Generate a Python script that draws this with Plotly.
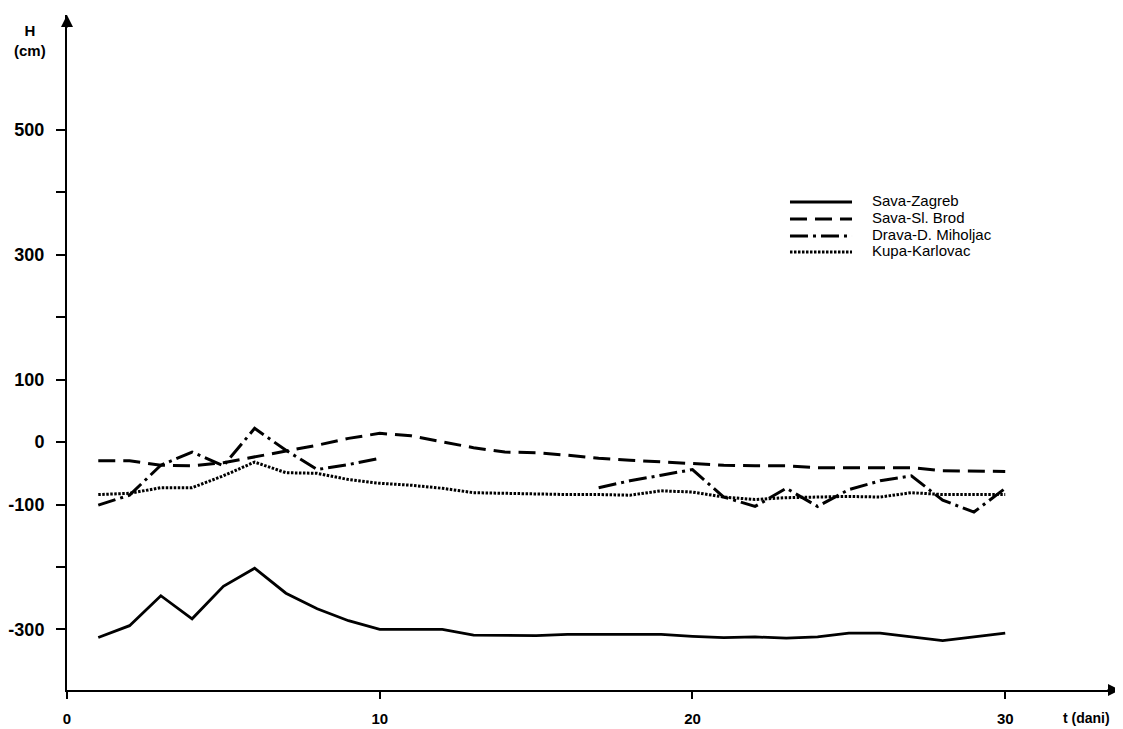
import plotly.graph_objects as go

# ---- data ----
days = list(range(1, 31))
sava_zagreb = [-313, -294, -246, -283, -231, -202, -242, -267, -286, -300,
               -300, -300, -309, -310, -310, -308, -308, -308, -308, -311,
               -313, -312, -314, -312, -306, -306, -312, -318, -312, -306]
sava_brod = [-30, -30, -37, -38, -33, -24, -14, -5, 6, 14,
             10, 0, -9, -16, -17, -21, -26, -29, -32, -34,
             -37, -38, -38, -41, -41, -41, -41, -46, -46, -47]
drava_miholjac = [-101, -85, -37, -16, -38, 22, -13, -44, -36, -26,
                  None, None, None, None, None, None, -73, -62, -53, -44,
                  -88, -103, -74, -103, -76, -62, -54, -93, -112, -74]
kupa_karlovac = [-84, -82, -73, -73, -54, -32, -49, -50, -60, -66,
                 -69, -74, -81, -82, -84, -84, -84, -85, -78, -80,
                 -88, -92, -89, -88, -87, -88, -81, -84, -84, -84]

series_names = ["Sava-Zagreb", "Sava-Sl. Brod", "Drava-D. Miholjac", "Kupa-Karlovac"]
series_values = [sava_zagreb, sava_brod, drava_miholjac, kupa_karlovac]
series_dash = ["solid", "17px,8px", "18px,5px,3px,5px", "2.5px,1.5px"]
series_width = [2.8, 3.0, 3.0, 3.0]

y_tickvals = [-300, -200, -100, 0, 100, 200, 300, 400, 500]
y_ticktext = ["-300", "", "-100", "0", "100", "", "300", "", "500"]
x_tickvals = [0, 10, 20, 30]
x_ticktext = ["0", "10", "20", "30"]

X_RANGE = [0, 33.67]
Y_RANGE = [-397, 684]

FONT = "Liberation Sans, Arial, Helvetica, sans-serif"

fig = go.Figure()
for name, vals, dash, w in zip(series_names, series_values, series_dash, series_width):
    fig.add_trace(go.Scatter(
        x=days, y=vals, mode="lines", name=name,
        line=dict(color="black", width=w, dash=dash),
        connectgaps=False, showlegend=False,
    ))

# manual legend (longer line samples like the reference)
leg_x0, leg_x1, leg_tx = 0.6866, 0.7455, 0.7626
leg_rows = [0.7230, 0.6978, 0.6726, 0.6490]
for name, dash, w, yy in zip(series_names, series_dash, series_width, leg_rows):
    fig.add_shape(type="line", xref="paper", yref="paper",
                  x0=leg_x0, x1=leg_x1, y0=yy, y1=yy,
                  line=dict(color="black", width=w, dash=dash))
    fig.add_annotation(xref="paper", yref="paper", x=leg_tx, y=yy + 0.002,
                       text=name, showarrow=False, xanchor="left", yanchor="middle",
                       font=dict(family=FONT, size=15, color="black"))

# axis arrows
fig.add_annotation(x=X_RANGE[1], y=Y_RANGE[0], xref="x", yref="y", text="",
                   showarrow=True, ax=-14, ay=0, arrowhead=2, arrowsize=1.2,
                   arrowwidth=2, arrowcolor="black")
fig.add_annotation(x=0, y=Y_RANGE[1], xref="x", yref="y", text="",
                   showarrow=True, ax=0, ay=14, arrowhead=2, arrowsize=1.2,
                   arrowwidth=2, arrowcolor="black")

# axis titles
fig.add_annotation(xref="paper", yref="paper", x=-0.0351, y=0.962,
                   text="H<br>(cm)", showarrow=False, xanchor="center", yanchor="middle",
                   font=dict(family=FONT, size=15, color="black", weight="bold"),
                   align="center")
fig.add_annotation(xref="paper", yref="paper", x=0.9435, y=-0.026,
                   text="t (dani)", showarrow=False, xanchor="left", yanchor="top",
                   font=dict(family=FONT, size=14, color="black", weight="bold"))

fig.update_xaxes(range=X_RANGE, showline=True, linecolor="black", linewidth=2,
                 showgrid=False, zeroline=False, tickmode="array",
                 tickvals=x_tickvals, ticktext=x_ticktext, ticks="outside",
                 ticklen=7, tickwidth=1.5, tickcolor="black", automargin=False,
                 ticklabelstandoff=7,
                 tickfont=dict(family=FONT, size=15, color="black", weight="bold"))
fig.update_yaxes(range=Y_RANGE, showline=True, linecolor="black", linewidth=2,
                 showgrid=False, zeroline=False, tickmode="array",
                 tickvals=y_tickvals, ticktext=y_ticktext, ticks="outside",
                 ticklen=9, tickwidth=1.5, tickcolor="black", ticklabelstandoff=8,
                 automargin=False,
                 tickfont=dict(family=FONT, size=18, color="black", weight="bold"))

# the page body has an 8px default margin, so size the figure to fit the window
fig.update_layout(width=1115, height=721,
                  margin=dict(l=59, r=3, t=7, b=39, autoexpand=False),
                  paper_bgcolor="white", plot_bgcolor="white",
                  showlegend=False)

fig.write_html("out.html")
